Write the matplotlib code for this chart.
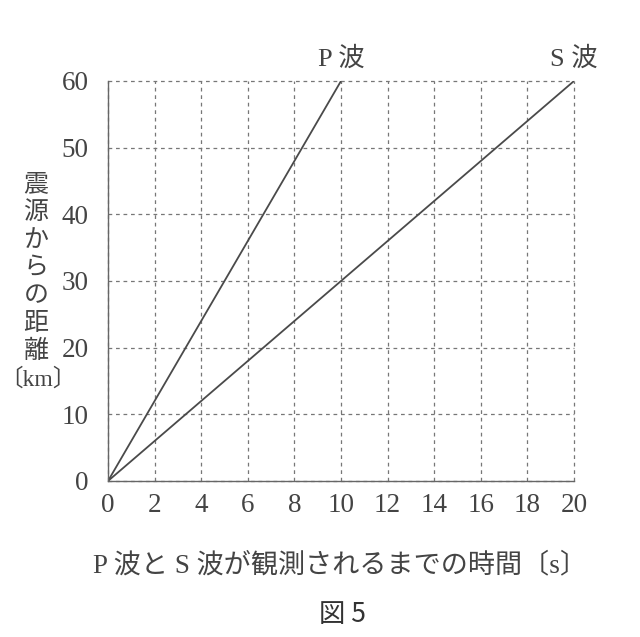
import matplotlib
matplotlib.use("Agg")
import matplotlib.pyplot as plt

plt.rcParams['font.family'] = ['Liberation Serif', 'Noto Sans CJK JP', 'DejaVu Sans']

# data
time_p = [0, 10]
dist_p = [0, 60]
time_s = [0, 20]
dist_s = [0, 60]
x_ticks = list(range(0, 21, 2))
y_ticks = list(range(0, 61, 10))
ylabel_chars = ['震', '源', 'か', 'ら', 'の', '距', '離', '〔km〕']

fig = plt.figure(figsize=(6.4, 6.37), dpi=100)
ax = fig.add_axes([108 / 640, 1 - 481 / 637, 466 / 640, 400 / 637])

line_col = '#4a4a4a'
ax.plot(time_p, dist_p, color=line_col, lw=1.3, solid_capstyle='butt')
ax.plot(time_s, dist_s, color=line_col, lw=1.3, solid_capstyle='butt')

ax.set_xlim(0, 20)
ax.set_ylim(0, 60)
ax.set_xticks(x_ticks)
ax.set_yticks(y_ticks)
ax.grid(True, linestyle=(0, (3, 3)), color='#777777', lw=0.9)
for gl in ax.get_xgridlines() + ax.get_ygridlines():
    gl.set_clip_on(False)
ax.tick_params(length=0, labelsize=19.5, colors='#444444')
ax.tick_params(axis='y', pad=14)
ax.tick_params(axis='x', pad=9)

for s in ['top', 'right']:
    ax.spines[s].set_visible(False)
for s in ['left', 'bottom']:
    ax.spines[s].set_color('#666666')
    ax.spines[s].set_linewidth(1.0)

# line labels
ax.text(time_p[1], dist_p[1] + 1.6, 'P 波', fontsize=19, color='#444444',
        ha='center', va='bottom')
ax.text(time_s[1], dist_s[1] + 1.6, 'S 波', fontsize=19, color='#444444',
        ha='center', va='bottom')

# vertical y label
y0 = 185
for i, ch in enumerate(ylabel_chars):
    if ch == '〔km〕':
        fig.text(38 / 640, 1 - (y0 + i * 27.8) / 637, ch, fontsize=17,
                 color='#444444', ha='center', va='center')
    else:
        fig.text(36 / 640, 1 - (y0 + i * 27.8) / 637, ch, fontsize=18,
                 color='#444444', ha='center', va='center')

fig.text(340 / 640, 1 - 565 / 637, 'P 波と S 波が観測されるまでの時間〔s〕', fontsize=19.5,
         color='#444444', ha='center', va='center')
fig.text(342 / 640, 1 - 615 / 637, '図 5', fontsize=19, color='#333333',
         ha='center', va='center', family=['Noto Sans CJK JP'])

fig.savefig('out.png', dpi=100)
